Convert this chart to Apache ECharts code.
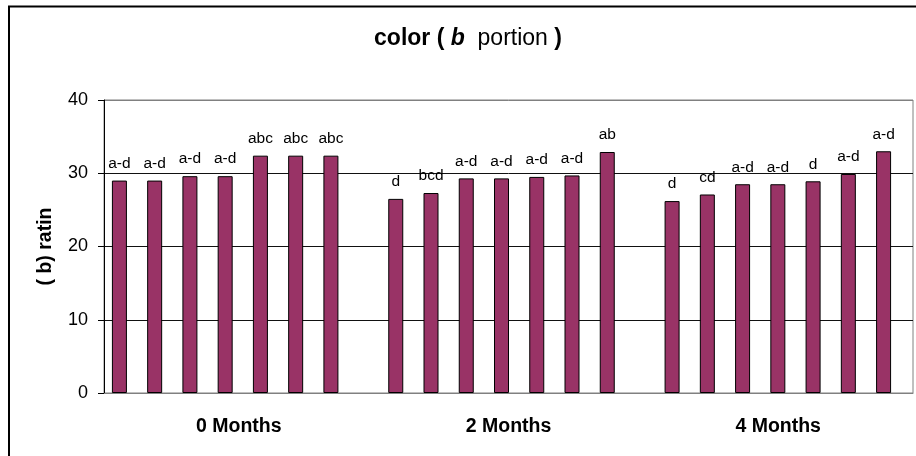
<!DOCTYPE html>
<html><head><meta charset="utf-8">
<script src="https://cdn.jsdelivr.net/npm/echarts@6/dist/echarts.min.js"></script>
<style>html,body{margin:0;padding:0;background:#fff}#c{width:916px;height:456px}</style>
</head><body><div id="c"></div>
<script>
// ---- data ----
const months = ['0 Months', '2 Months', '4 Months'];
const yMin = 0, yMax = 40, yStep = 10;
const values0 = [29.0, 29.0, 29.6, 29.6, 32.4, 32.4, 32.4];
const values2 = [26.5, 27.3, 29.3, 29.3, 29.5, 29.7, 32.9];
const values4 = [26.2, 27.1, 28.5, 28.5, 28.9, 29.9, 33.0];
const letters0 = ['a-d', 'a-d', 'a-d', 'a-d', 'abc', 'abc', 'abc'];
const letters2 = ['d', 'bcd', 'a-d', 'a-d', 'a-d', 'a-d', 'ab'];
const letters4 = ['d', 'cd', 'a-d', 'a-d', 'd', 'a-d', 'a-d'];
const yName = '( b) rating';

const FONT = 'Liberation Sans, Arial, sans-serif';
const groups = [values0, values2, values4];
const letters = [letters0, letters2, letters4];

const series = [];
for (let i = 0; i < 7; i++) {
  series.push({
    type: 'bar',
    xAxisIndex: 1, yAxisIndex: 1,
    barWidth: 15,
    barGap: '135%',
    itemStyle: { color: '#993366', borderColor: '#000', borderWidth: 1 },
    label: {
      show: true, position: 'top', distance: 9,
      fontFamily: FONT, fontSize: 15.5, color: '#000',
      formatter: p => p.data.letter
    },
    data: groups.map((g, k) => ({ value: g[i], letter: letters[k][i] }))
  });
}

const chart = echarts.init(document.getElementById('c'), null, { renderer: 'canvas' });
chart.setOption({
  animation: false,
  backgroundColor: '#fff',
  textStyle: { fontFamily: FONT },
  grid: [
    { left: 104, top: 100, right: 3, bottom: 63, show: true, borderColor: '#808080', borderWidth: 1, backgroundColor: 'transparent' },
    { left: 87, top: 100, width: 845, bottom: 63 }
  ],
  xAxis: [
    {
      type: 'category', gridIndex: 0, data: months,
      axisLine: { lineStyle: { color: '#808080', width: 1 } },
      axisTick: { show: false },
      axisLabel: { fontFamily: FONT, fontWeight: 'bold', fontSize: 19.5, color: '#000', margin: 24 }
    },
    {
      type: 'category', gridIndex: 1, data: months,
      axisLine: { show: false }, axisTick: { show: false }, axisLabel: { show: false }
    }
  ],
  yAxis: [
    {
      type: 'value', gridIndex: 0, min: yMin, max: yMax, interval: yStep,
      axisLine: { show: true, lineStyle: { color: '#000', width: 1 } },
      axisTick: { show: true, length: 6, lineStyle: { color: '#000' } },
      axisLabel: { fontFamily: FONT, fontSize: 18, color: '#000', margin: 16 },
      splitLine: { show: true, lineStyle: { color: ['#808080', '#111', '#111', '#111', '#808080'], width: 1 } },
      name: yName, nameLocation: 'middle', nameGap: 48,
      nameTruncate: { maxWidth: 86, ellipsis: '' },
      nameTextStyle: { fontFamily: FONT, fontWeight: 'bold', fontSize: 19.5, color: '#000' }
    },
    {
      type: 'value', gridIndex: 1, min: yMin, max: yMax, interval: yStep,
      show: false, splitLine: { show: false }
    }
  ],
  graphic: [
    {
      type: 'rect', z: -10, silent: true,
      shape: { x: 9, y: 6.5, width: 1000, height: 500 },
      style: { fill: 'none', stroke: '#000', lineWidth: 2 }
    },
    {
      type: 'text', x: 468, y: 39, z: 10,
      style: {
        text: '{a|color ( }{b|b}{c|  portion }{a|)}',
        align: 'center', verticalAlign: 'middle',
        rich: {
          a: { fontFamily: FONT, fontWeight: 'bold', fontSize: 23, fill: '#000' },
          b: { fontFamily: FONT, fontWeight: 'bold', fontStyle: 'italic', fontSize: 23, fill: '#000' },
          c: { fontFamily: FONT, fontSize: 23, fill: '#000' }
        }
      }
    }
  ],
  series: series
});
</script>
</body></html>
